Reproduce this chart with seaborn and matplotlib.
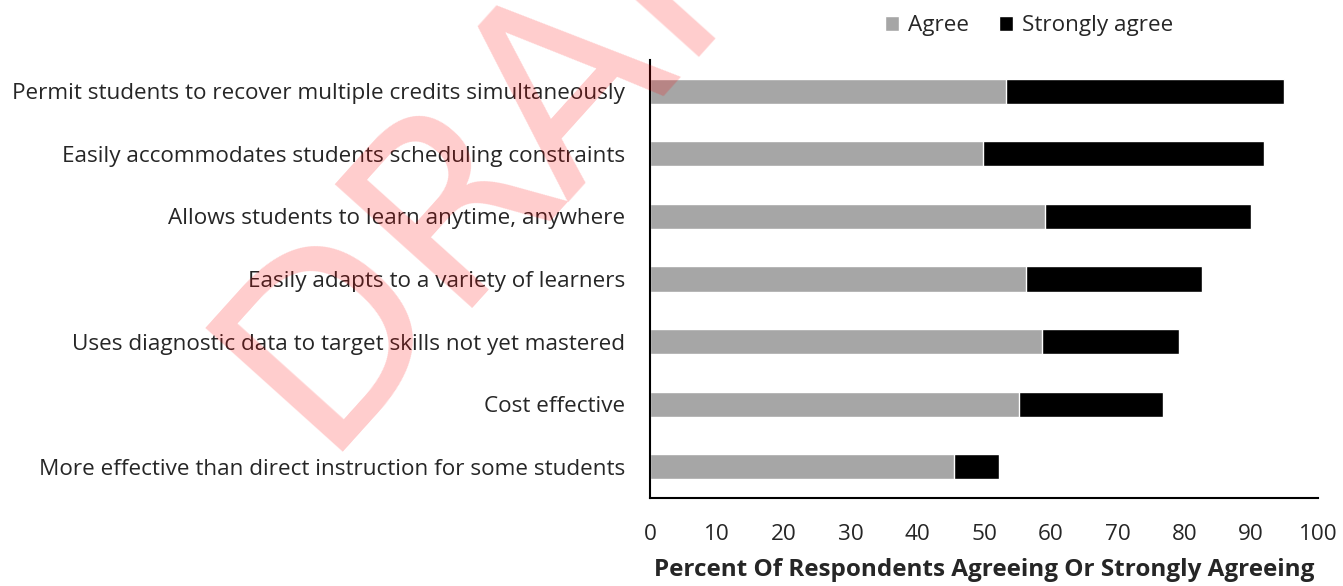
import matplotlib
matplotlib.use("Agg")
import matplotlib.pyplot as plt
import seaborn as sns
import pandas as pd

# Survey items (top to bottom) and percentages
items = [
    "Permit students to recover multiple credits simultaneously",
    "Easily accommodates students scheduling constraints",
    "Allows students to learn anytime, anywhere",
    "Easily adapts to a variety of learners",
    "Uses diagnostic data to target skills not yet mastered",
    "Cost effective",
    "More effective than direct instruction for some students",
]
agree = [53.3, 49.9, 59.1, 56.3, 58.7, 55.2, 45.5]
strongly_agree = [41.6, 42.0, 30.9, 26.3, 20.5, 21.6, 6.7]
x_ticks = [0, 10, 20, 30, 40, 50, 60, 70, 80, 90, 100]

df = pd.DataFrame({"item": items, "Agree": agree, "Strongly agree": strongly_agree})
df["total"] = df["Agree"] + df["Strongly agree"]

sns.set_style("white")
plt.rcParams["font.family"] = ["Open Sans", "DejaVu Sans"]

fig = plt.figure(figsize=(13.43, 5.86), dpi=100)
ax = fig.add_axes([650 / 1343, 1 - 498 / 586, 668 / 1343, 438 / 586])

# draw total first (black) then agree (gray) on top
sns.barplot(data=df, y="item", x="total", color="black", width=0.4,
            orient="h", ax=ax, label="Strongly agree", saturation=1)
sns.barplot(data=df, y="item", x="Agree", color="#a6a6a6", width=0.4,
            orient="h", ax=ax, label="Agree", saturation=1)

ax.set_xlim(0, 100)
ax.set_xticks(x_ticks)
ax.set_ylabel("")
ax.set_xlabel("Percent Of Respondents Agreeing Or Strongly Agreeing",
              fontsize=17.5, fontweight="bold", labelpad=9)
ax.tick_params(axis="both", length=0, labelsize=16.2)
ax.tick_params(axis="x", pad=19)
ax.tick_params(axis="y", pad=18)
for side in ["top", "right"]:
    ax.spines[side].set_visible(False)
for side in ["left", "bottom"]:
    ax.spines[side].set_color("black")
    ax.spines[side].set_linewidth(1.5)

handles, labels = ax.get_legend_handles_labels()
order = [labels.index("Agree"), labels.index("Strongly agree")]
ax.legend([handles[i] for i in order], [labels[i] for i in order],
          loc="center", bbox_to_anchor=(1029 / 1343, 1 - 26 / 586),
          bbox_transform=fig.transFigure, ncol=2, frameon=False,
          fontsize=16.2, handlelength=0.65, handleheight=0.65,
          handletextpad=0.4, columnspacing=1.3)

# watermark
fig.text(318 / 1343, 1 - 452 / 586, "DRAFT", rotation=48, rotation_mode="anchor",
         ha="left", va="baseline", fontsize=182, color="red", alpha=0.2,
         family="DejaVu Sans", zorder=10)

fig.savefig("out.png", dpi=100)
